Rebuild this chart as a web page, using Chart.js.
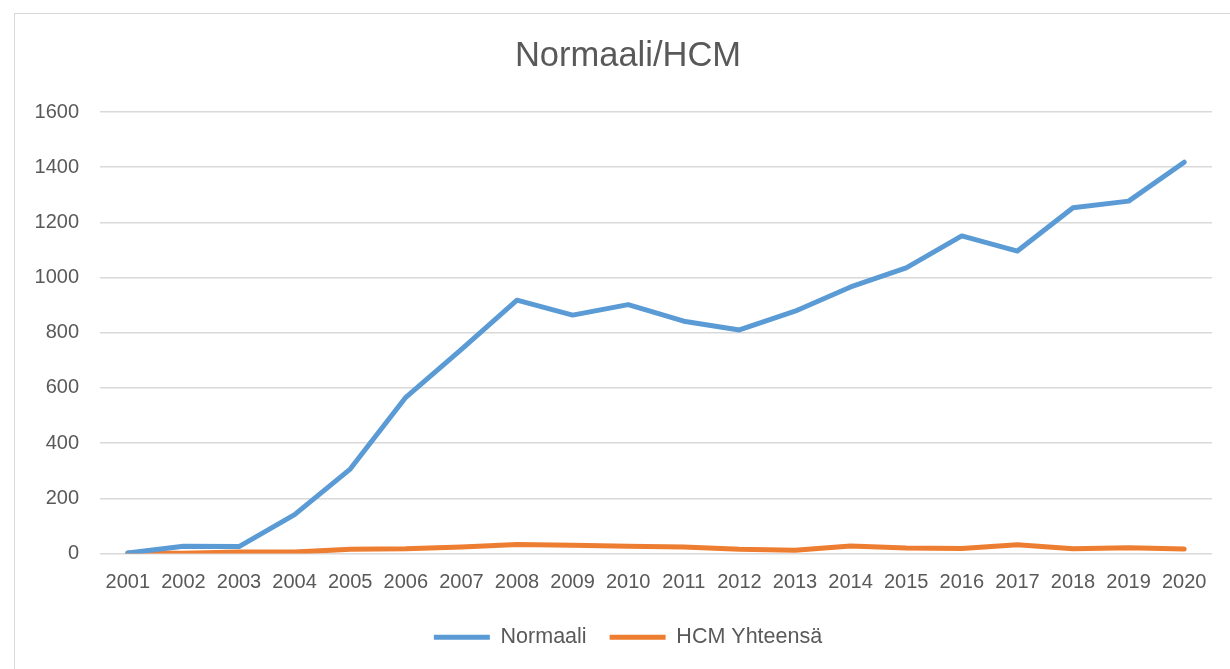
<!DOCTYPE html>
<html>
<head>
<meta charset="utf-8">
<script src="https://cdn.jsdelivr.net/npm/chart.js@4.4.1/dist/chart.umd.min.js"></script>
<style>
  html, body { margin: 0; padding: 0; background: #fff; overflow: hidden; width: 1230px; height: 669px; }
  .frame { position: absolute; left: 14px; top: 13px; width: 1240px; height: 680px; border: 1px solid #d9d9d9; }
  .wrap { position: absolute; left: 0; top: 0; width: 1256px; height: 669px; }
</style>
</head>
<body>
<div class="frame"></div>
<div class="wrap"><canvas id="chart"></canvas></div>
<script>
const years = ['2001', '2002', '2003', '2004', '2005', '2006', '2007', '2008', '2009', '2010',
  '2011', '2012', '2013', '2014', '2015', '2016', '2017', '2018', '2019', '2020'];
const normaali = [2, 26, 25, 141, 306, 566, 740, 918, 864, 902,
  842, 810, 878, 966, 1035, 1151, 1096, 1253, 1277, 1418];
const hcmYhteensa = [2, 1, 5, 5, 15, 17, 24, 33, 30, 26,
  24, 15, 12, 27, 20, 18, 32, 17, 21, 16];
const seriesNames = ['Normaali', 'HCM Yhteensä'];
const chartTitle = 'Normaali/HCM';

const textColor = '#595959';
const fontFamily = "'Liberation Sans', Arial, sans-serif";

new Chart(document.getElementById('chart'), {
  type: 'line',
  data: {
    labels: years,
    datasets: [
      {
        label: seriesNames[0],
        data: normaali,
        borderColor: '#5b9bd5',
        backgroundColor: '#5b9bd5',
        borderWidth: 5,
        borderCapStyle: 'round',
        borderJoinStyle: 'round',
        pointRadius: 0,
        tension: 0
      },
      {
        label: seriesNames[1],
        data: hcmYhteensa,
        borderColor: '#ed7d31',
        backgroundColor: '#ed7d31',
        borderWidth: 5,
        borderCapStyle: 'round',
        borderJoinStyle: 'round',
        pointRadius: 0,
        tension: 0
      }
    ]
  },
  options: {
    responsive: true,
    maintainAspectRatio: false,
    animation: false,
    layout: { padding: { left: 0, right: 0, top: 0, bottom: 11 } },
    plugins: {
      title: {
        display: true,
        text: chartTitle,
        color: textColor,
        font: { family: fontFamily, size: 34.5, weight: 'normal' },
        padding: { top: 36, bottom: 34.6 }
      },
      legend: {
        position: 'bottom',
        labels: {
          color: textColor,
          font: { family: fontFamily, size: 21.5 },
          usePointStyle: true,
          pointStyle: 'line',
          pointStyleWidth: 56,
          boxHeight: 20,
          padding: 23
        }
      },
      tooltip: { enabled: false }
    },
    scales: {
      x: {
        offset: true,
        grid: { display: false },
        border: { display: false },
        ticks: {
          color: textColor,
          font: { family: fontFamily, size: 20 },
          padding: 9,
          maxRotation: 0,
          autoSkip: false
        }
      },
      y: {
        position: 'left',
        min: 0,
        max: 1600,
        afterFit: (scale) => { scale.width = 100; },
        grid: { color: '#d9d9d9', lineWidth: 1.5, drawTicks: false },
        border: { display: false },
        ticks: {
          stepSize: 200,
          color: textColor,
          font: { family: fontFamily, size: 20 },
          padding: 21,
          callback: (value) => String(value)
        }
      },
      spacer: {
        type: 'linear',
        position: 'right',
        afterFit: (scale) => { scale.width = 44; },
        grid: { display: false },
        border: { display: false },
        ticks: { display: false }
      }
    }
  }
});
</script>
</body>
</html>
